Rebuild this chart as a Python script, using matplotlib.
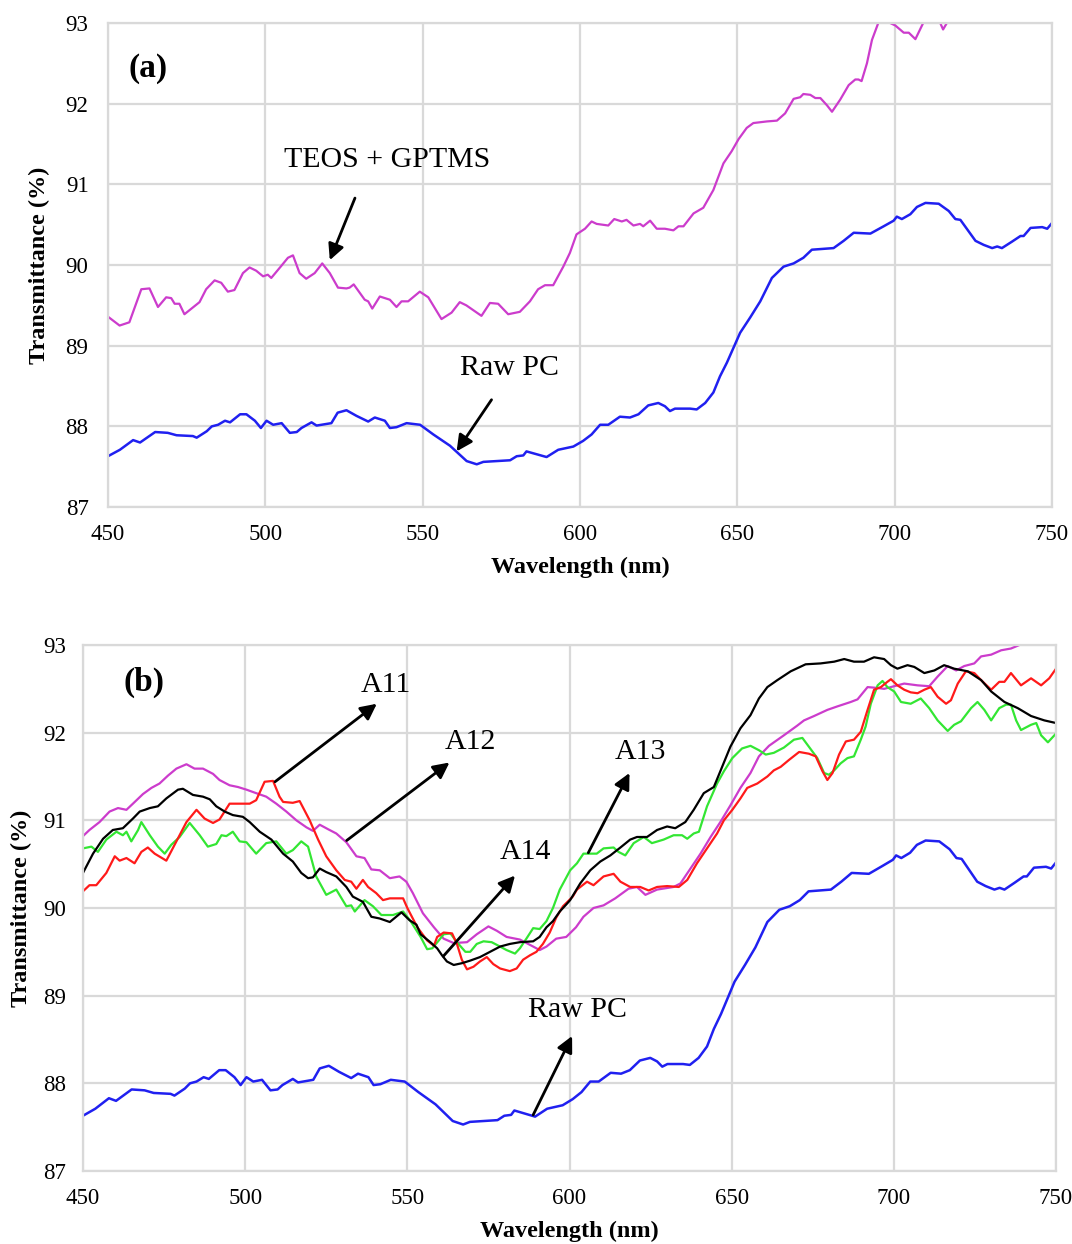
import matplotlib
matplotlib.use("Agg")
import matplotlib.pyplot as plt

plt.rcParams['font.family'] = ['Liberation Serif', 'DejaVu Serif']

# Raw polycarbonate (both panels)
wl_raw = [450, 453.8, 458, 460.2, 465, 469, 471.8, 477, 478.2, 481.4, 483, 485, 487.2, 488.8,
          492, 494, 496.7, 498.6, 500.4, 502.5, 505.2, 507.8, 510, 511.5, 514.7, 516.3, 521, 523,
          525.8, 529, 532.7, 534.8, 538, 539.6, 541.7, 544.9, 549.2, 553.4, 558.7, 564, 567.2,
          569.3, 577.8, 579.9, 582, 583, 589.4, 593.1, 597.9, 601, 603.7, 606.4, 609, 612.7,
          615.9, 618.6, 621.7, 624.9, 627, 628.6, 630.2, 635, 637.1, 639.8, 642.4, 644.5, 646.7,
          650.9, 654.1, 657.3, 661, 664.7, 667.9, 671, 673.7, 680.6, 683.8, 687, 692.3, 696.5,
          699.7, 700.7, 702.3, 705, 707.1, 709.8, 714, 717.2, 719.3, 720.9, 725.7, 728.3, 731,
          732.6, 734.1, 737.3, 740, 741, 743.2, 746.9, 748.5, 750]
t_raw = [87.63, 87.71, 87.83, 87.80, 87.93, 87.92, 87.89, 87.88, 87.86, 87.94, 88.00, 88.02, 88.07, 88.05,
         88.15, 88.15, 88.07, 87.98, 88.07, 88.02, 88.04, 87.92, 87.93, 87.98, 88.05, 88.01, 88.04, 88.17,
         88.20, 88.13, 88.06, 88.11, 88.07, 87.98, 87.99, 88.04, 88.02, 87.90, 87.76, 87.57, 87.53,
         87.56, 87.58, 87.63, 87.64, 87.69, 87.62, 87.71, 87.75, 87.82, 87.90, 88.02, 88.02, 88.12,
         88.11, 88.15, 88.26, 88.29, 88.25, 88.19, 88.22, 88.22, 88.21, 88.29, 88.42, 88.62, 88.79,
         89.16, 89.35, 89.55, 89.84, 89.98, 90.02, 90.09, 90.19, 90.21, 90.30, 90.40, 90.39, 90.48,
         90.55, 90.60, 90.57, 90.63, 90.72, 90.77, 90.76, 90.67, 90.57, 90.56, 90.30, 90.25, 90.21,
         90.23, 90.21, 90.29, 90.36, 90.36, 90.46, 90.47, 90.45, 90.52]

# TEOS + GPTMS coating
wl_tg = [450, 453.7, 456.8, 460.6, 463.2, 465.9, 468.5, 470.1, 471.2, 472.7, 474.3, 479.1, 481.2, 483.9,
         486, 488.1, 490.2, 492.9, 495, 497.1, 499.3, 500.8, 501.9, 505.1, 507.2, 508.8, 510.9, 513,
         515.7, 518.1, 520.5, 523.1, 525.8, 526.8, 528.1, 531.6, 532.7, 534, 536.4, 539.6, 541.7,
         543.3, 545.4, 549.1, 551.8, 556, 559.2, 561.8, 563.9, 568.7, 571.4, 574, 577.2, 580.9,
         584.1, 586.7, 588.9, 591.5, 594.7, 596.8, 598.9, 601.6, 603.7, 605.3, 609, 610.9, 613.3,
         614.8, 617, 619.1, 620.1, 622.3, 624.4, 627, 629.7, 631.3, 632.9, 636.1, 639.2, 642.4,
         645.6, 648.2, 650.4, 653, 655.1, 659.4, 662.6, 665.2, 667.9, 670, 671, 673.2, 674.8, 676.4,
         678.5, 680.1, 682.7, 685.4, 687.5, 688.5, 689.5, 691.2, 692.8, 694.9, 696.7, 698.6, 700.2,
         702.9, 704.5, 706.6, 709.2, 712, 714.5, 715.4, 716.6, 720, 725, 730, 740, 750]
t_tg = [89.36, 89.25, 89.29, 89.70, 89.71, 89.48, 89.60, 89.59, 89.52, 89.52, 89.39, 89.54, 89.70, 89.81,
        89.78, 89.67, 89.69, 89.90, 89.97, 89.93, 89.86, 89.88, 89.84, 89.99, 90.09, 90.12, 89.90, 89.83,
        89.90, 90.02, 89.90, 89.72, 89.71, 89.72, 89.76, 89.57, 89.55, 89.46, 89.61, 89.57, 89.48,
        89.55, 89.55, 89.67, 89.60, 89.33, 89.41, 89.54, 89.50, 89.37, 89.53, 89.52, 89.39, 89.42,
        89.55, 89.70, 89.75, 89.75, 89.98, 90.15, 90.38, 90.45, 90.54, 90.51, 90.49, 90.57, 90.54,
        90.56, 90.49, 90.51, 90.48, 90.55, 90.45, 90.45, 90.43, 90.48, 90.48, 90.64, 90.71, 90.93,
        91.26, 91.41, 91.56, 91.70, 91.76, 91.78, 91.79, 91.88, 92.06, 92.08, 92.12, 92.11, 92.07, 92.07,
        91.98, 91.90, 92.05, 92.23, 92.30, 92.30, 92.28, 92.50, 92.79, 93.01, 93.08, 93.00, 92.97,
        92.88, 92.88, 92.80, 93.01, 93.12, 93.00, 92.92, 93.00, 93.15, 93.25, 93.35, 93.50, 93.60]

# A11 (red)
wl_a11 = [450, 452, 454.1, 457.2, 459.8, 461.3, 463.4, 465.9, 468, 470, 472.1, 475.7, 478.8, 481.9,
          485, 487.5, 490.1, 492.1, 495.2, 498.3, 501.4, 503.4, 506, 508.6, 510.6, 511.7, 514.7,
          516.8, 519.9, 522.5, 525, 528.1, 530.7, 532.7, 534.3, 536.3, 537.9, 540.4, 542.5, 544.6,
          548.7, 550, 553.1, 556.1, 558.2, 559.2, 561.2, 563.8, 565.3, 566.8, 568.4, 570.4, 572.4,
          574.5, 576.5, 578.6, 581.6, 583.7, 585.7, 587.8, 589.8, 591.8, 593.9, 595.9, 598, 601,
          602.3, 605.4, 607.4, 610.5, 613.6, 615.7, 618.7, 621.8, 624.4, 627, 630.1, 633.7, 636.3,
          639.3, 642.4, 645.5, 647.6, 650.2, 652.7, 654.8, 657.9, 661, 663, 665.1, 667.7, 670.8,
          673.8, 675.9, 678, 679.5, 681.1, 683.1, 685.2, 687.7, 689.8, 691.9, 693.9, 696, 698, 699.1,
          701.1, 703.2, 705.2, 707.3, 709.4, 711.4, 713.5, 716.1, 717.6, 719.7, 722.2, 724.8, 726.9,
          730, 732.5, 734.1, 736.1, 739.2, 742.3, 745.4, 747.9, 750]
t_a11 = [90.19, 90.26, 90.26, 90.40, 90.59, 90.54, 90.57, 90.51, 90.64, 90.69, 90.62, 90.54, 90.76, 90.98,
         91.12, 91.02, 90.97, 91.01, 91.19, 91.19, 91.19, 91.23, 91.44, 91.45, 91.27, 91.21, 91.20,
         91.22, 91.00, 90.78, 90.59, 90.43, 90.32, 90.30, 90.22, 90.32, 90.24, 90.17, 90.09, 90.11,
         90.11, 90.00, 89.78, 89.63, 89.57, 89.67, 89.72, 89.71, 89.59, 89.41, 89.30, 89.33, 89.39,
         89.44, 89.36, 89.31, 89.28, 89.31, 89.41, 89.46, 89.50, 89.59, 89.72, 89.89, 90.02, 90.13,
         90.21, 90.30, 90.26, 90.36, 90.39, 90.30, 90.24, 90.24, 90.20, 90.24, 90.25, 90.24, 90.32,
         90.51, 90.68, 90.85, 91.00, 91.12, 91.25, 91.37, 91.42, 91.50, 91.57, 91.61, 91.69, 91.78,
         91.76, 91.73, 91.56, 91.46, 91.54, 91.75, 91.90, 91.92, 92.01, 92.26, 92.49, 92.52, 92.58, 92.61,
         92.54, 92.49, 92.46, 92.45, 92.49, 92.52, 92.41, 92.33, 92.37, 92.56, 92.70, 92.68, 92.60,
         92.49, 92.58, 92.58, 92.68, 92.54, 92.62, 92.54, 92.62, 92.73]

# A12 (magenta)
wl_a12 = [450, 452, 455.1, 458.2, 460.8, 463.4, 465.4, 468.5, 471.1, 473.6, 476.2, 478.8, 481.9, 484.4,
          487, 490.1, 492.1, 495.2, 497.8, 500.4, 503.4, 506.5, 509.6, 512.7, 515.8, 518.9, 520.9,
          523, 525.5, 528.1, 531.2, 534.3, 536.8, 538.9, 541.5, 544.6, 547.6, 549.7, 551.7, 554.8,
          558.2, 561.2, 564.3, 568.4, 571.4, 575, 577.6, 580.6, 584.7, 588.8, 590.8, 592.9, 595.9,
          599, 602, 604.3, 607.4, 610.5, 614.1, 618.2, 620.8, 623.4, 627, 632.1, 634.2, 637.3, 640.4,
          643.5, 646.5, 649.6, 652.7, 655.8, 658.4, 661.5, 666.1, 670.2, 672.3, 675.4, 679.5, 682.6,
          686.7, 688.8, 691.9, 695, 697, 701.1, 703.2, 707.3, 710.9, 713.5, 716.6, 719.2, 721.7, 724.8,
          726.9, 730, 733.1, 736.1, 738.7, 742, 746, 750]
t_a12 = [90.82, 90.89, 90.98, 91.10, 91.14, 91.12, 91.19, 91.30, 91.37, 91.42, 91.51, 91.59, 91.64, 91.59,
         91.59, 91.53, 91.46, 91.40, 91.38, 91.35, 91.31, 91.27, 91.19, 91.10, 91.00, 90.92, 90.88,
         90.95, 90.90, 90.85, 90.75, 90.59, 90.57, 90.44, 90.43, 90.34, 90.36, 90.30, 90.17, 89.94,
         89.78, 89.65, 89.60, 89.61, 89.70, 89.79, 89.74, 89.67, 89.64, 89.56, 89.52, 89.56, 89.65,
         89.67, 89.78, 89.90, 90.00, 90.03, 90.11, 90.22, 90.24, 90.15, 90.21, 90.24, 90.28, 90.45, 90.62,
         90.81, 90.98, 91.17, 91.37, 91.54, 91.73, 91.85, 91.97, 92.08, 92.14, 92.19, 92.26, 92.30,
         92.35, 92.38, 92.52, 92.51, 92.50, 92.54, 92.56, 92.54, 92.53, 92.64, 92.76, 92.71, 92.76, 92.79,
         92.87, 92.89, 92.94, 92.96, 93.00, 93.06, 93.12, 93.18]

# A13 (green)
wl_a13 = [450, 452.6, 454.6, 457.2, 460.3, 462.3, 463.4, 464.9, 467, 468, 470.6, 473.1, 475.2, 477.2,
          479.8, 482.9, 486, 488.5, 491.1, 492.7, 494.2, 496.2, 498.3, 500.4, 503.4, 506.5, 509.6,
          512.7, 514.7, 517.3, 519.4, 521.9, 525, 528.1, 531.2, 532.7, 533.8, 536.8, 539.4, 542,
          545.6, 548.7, 551, 554.1, 556.1, 557.7, 559.7, 561.2, 563.3, 565.3, 567.9, 569.4, 571.4,
          573.5, 576, 578.6, 580.6, 583.2, 584.7, 586.7, 588.8, 590.8, 592.9, 594.9, 597, 600.2,
          602.3, 604.3, 606.4, 608.4, 610.5, 613.6, 615.1, 617.2, 619.8, 622.9, 625.4, 629, 632.1,
          634.7, 636.3, 638.3, 639.9, 642.4, 645.5, 647.6, 650.2, 653.2, 655.8, 658.4, 660.5, 663,
          666.1, 669.2, 671.8, 673.8, 676.4, 678.5, 680, 681.6, 683.6, 685.7, 687.7, 689.8, 691.3,
          692.9, 695, 696.5, 698, 700.1, 702.2, 705.2, 708.3, 710.9, 713.5, 716.6, 718.6, 720.7,
          723.8, 725.8, 727.9, 730, 732.5, 734.6, 736.1, 737.7, 739.2, 742.3, 743.9, 745.4, 747.5, 750]
t_a13 = [90.68, 90.70, 90.64, 90.78, 90.87, 90.83, 90.87, 90.76, 90.89, 90.98, 90.83, 90.70, 90.62, 90.72,
         90.81, 90.97, 90.83, 90.70, 90.73, 90.83, 90.82, 90.87, 90.76, 90.75, 90.62, 90.74, 90.76,
         90.62, 90.66, 90.76, 90.70, 90.36, 90.15, 90.21, 90.02, 90.03, 89.96, 90.09, 90.02, 89.92,
         89.92, 89.96, 89.85, 89.67, 89.53, 89.54, 89.63, 89.70, 89.71, 89.61, 89.50, 89.50, 89.59,
         89.62, 89.61, 89.56, 89.52, 89.48, 89.54, 89.65, 89.77, 89.76, 89.85, 90.00, 90.21, 90.43,
         90.51, 90.62, 90.62, 90.62, 90.68, 90.69, 90.64, 90.60, 90.74, 90.81, 90.74, 90.78, 90.83,
         90.83, 90.79, 90.85, 90.87, 91.16, 91.42, 91.56, 91.71, 91.82, 91.85, 91.80, 91.75, 91.77,
         91.83, 91.92, 91.94, 91.84, 91.71, 91.54, 91.52, 91.57, 91.65, 91.71, 91.73, 91.92, 92.07,
         92.33, 92.54, 92.59, 92.52, 92.47, 92.35, 92.33, 92.39, 92.28, 92.14, 92.02, 92.09, 92.13,
         92.28, 92.35, 92.26, 92.14, 92.28, 92.32, 92.32, 92.14, 92.03, 92.09, 92.11, 91.97, 91.89, 91.99]

# A14 (black)
wl_a14 = [450, 453.1, 456.2, 459.2, 462.3, 465.4, 467.5, 470.6, 473.1, 475.7, 479.3, 480.8, 483.9, 487,
          489.1, 491.1, 493.7, 496.2, 499.3, 501.4, 504.5, 508.1, 511.7, 514.7, 517.3, 519.4, 520.9,
          523, 525, 528.1, 531.2, 533.2, 536.3, 538.9, 541.5, 544.6, 548.2, 550.7, 552.8, 554.1,
          557.1, 559.2, 560.7, 562.2, 564.3, 566.8, 569.4, 572.4, 575.5, 578.6, 581.6, 584.7, 588.8,
          590.8, 592.9, 594.9, 597, 599, 600.2, 603.3, 606.4, 609.5, 612.6, 615.7, 618.7, 620.8,
          623.9, 627, 630.1, 632.6, 635.7, 638.3, 641.4, 644.5, 646.5, 649.6, 652.7, 655.8, 658.4,
          661, 664.1, 668.2, 672.8, 677.4, 681.6, 684.7, 687.7, 690.8, 693.9, 697, 699.1, 701.1,
          704.2, 706.3, 709.4, 712.5, 715.5, 718.6, 722.8, 726.9, 730, 734.1, 738.2, 742.3, 746.4, 750]
t_a14 = [90.40, 90.62, 90.79, 90.89, 90.91, 91.02, 91.10, 91.14, 91.16, 91.25, 91.35, 91.36, 91.29, 91.27,
         91.24, 91.16, 91.10, 91.06, 91.04, 90.98, 90.87, 90.78, 90.62, 90.53, 90.40, 90.34, 90.35,
         90.45, 90.41, 90.36, 90.24, 90.13, 90.07, 89.90, 89.88, 89.84, 89.95, 89.86, 89.81, 89.70,
         89.61, 89.54, 89.46, 89.39, 89.35, 89.37, 89.40, 89.44, 89.50, 89.56, 89.59, 89.61, 89.62,
         89.67, 89.78, 89.85, 89.96, 90.04, 90.09, 90.28, 90.43, 90.53, 90.60, 90.69, 90.78, 90.81,
         90.81, 90.89, 90.93, 90.91, 90.98, 91.12, 91.31, 91.38, 91.56, 91.84, 92.05, 92.20, 92.39,
         92.52, 92.60, 92.70, 92.78, 92.79, 92.81, 92.84, 92.81, 92.81, 92.86, 92.84, 92.77, 92.73,
         92.77, 92.75, 92.68, 92.71, 92.77, 92.73, 92.70, 92.60, 92.47, 92.35, 92.28, 92.19, 92.14, 92.11]

x_ticks = [450, 500, 550, 600, 650, 700, 750]
y_ticks = [87, 88, 89, 90, 91, 92, 93]

c_blue = '#2020f0'
c_mag = '#cc3ccc'
c_red = '#ff1a1a'
c_green = '#33e633'
grid_c = '#d9d9d9'

fig = plt.figure(figsize=(10.72, 12.44), dpi=100)
ax_a = fig.add_axes((0.1007, 0.5924, 0.8806, 0.3891))
ax_b = fig.add_axes((0.0774, 0.0587, 0.9077, 0.4228))


def style_axes(ax, ypad, ylabelpad):
    ax.set_xlim(450, 750)
    ax.set_ylim(87, 93)
    ax.set_xticks(x_ticks)
    ax.set_yticks(y_ticks)
    ax.grid(True, color=grid_c, lw=1.6)
    ax.set_axisbelow(True)
    for s in ax.spines.values():
        s.set_color(grid_c)
        s.set_linewidth(1.6)
    ax.tick_params(length=0, labelsize=16.5)
    ax.tick_params(axis='x', pad=12)
    ax.tick_params(axis='y', pad=ypad)
    ax.set_xlabel('Wavelength (nm)', fontsize=17.5, fontweight='bold', labelpad=9)
    ax.set_ylabel('Transmittance (%)', fontsize=17.5, fontweight='bold', labelpad=ylabelpad)


arrow = dict(arrowstyle='-|>', color='black', lw=2, mutation_scale=24, shrinkA=0, shrinkB=0)

# (a) raw PC vs TEOS + GPTMS
style_axes(ax_a, 14, 11)
ax_a.plot(wl_tg, t_tg, color=c_mag, lw=1.6)
ax_a.plot(wl_raw, t_raw, color=c_blue, lw=1.8)
ax_a.text(462.7, 92.44, '(a)', fontsize=24, fontweight='bold', ha='center', va='center')
ax_a.text(538.7, 91.30, 'TEOS + GPTMS', fontsize=21.5, ha='center', va='center')
ax_a.annotate('', xy=(520.5, 90.06), xytext=(528.5, 90.83), arrowprops=arrow)
ax_a.text(577.7, 88.72, 'Raw PC', fontsize=21.5, ha='center', va='center')
ax_a.annotate('', xy=(560.8, 87.69), xytext=(571.9, 88.33), arrowprops=arrow)

# (b) raw PC vs A11-A14
style_axes(ax_b, 12, 8)
ax_b.plot(wl_raw, t_raw, color=c_blue, lw=1.8)
ax_b.plot(wl_a12, t_a12, color=c_mag, lw=1.6)
ax_b.plot(wl_a13, t_a13, color=c_green, lw=1.6)
ax_b.plot(wl_a11, t_a11, color=c_red, lw=1.6)
ax_b.plot(wl_a14, t_a14, color='black', lw=1.6)
ax_b.text(468.8, 92.57, '(b)', fontsize=24, fontweight='bold', ha='center', va='center')
ax_b.text(543.4, 92.54, 'A11', fontsize=21.5, ha='center', va='center')
ax_b.annotate('', xy=(540.6, 92.33), xytext=(509.2, 91.44), arrowprops=arrow)
ax_b.text(569.3, 91.89, 'A12', fontsize=21.5, ha='center', va='center')
ax_b.annotate('', xy=(563.0, 91.66), xytext=(531.3, 90.77), arrowprops=arrow)
ax_b.text(621.8, 91.78, 'A13', fontsize=21.5, ha='center', va='center')
ax_b.annotate('', xy=(618.5, 91.54), xytext=(605.8, 90.63), arrowprops=arrow)
ax_b.text(586.3, 90.64, 'A14', fontsize=21.5, ha='center', va='center')
ax_b.annotate('', xy=(583.2, 90.37), xytext=(561.1, 89.45), arrowprops=arrow)
ax_b.text(602.6, 88.84, 'Raw PC', fontsize=21.5, ha='center', va='center')
ax_b.annotate('', xy=(600.8, 88.54), xytext=(588.8, 87.64), arrowprops=arrow)

fig.savefig('out.png', dpi=100)
